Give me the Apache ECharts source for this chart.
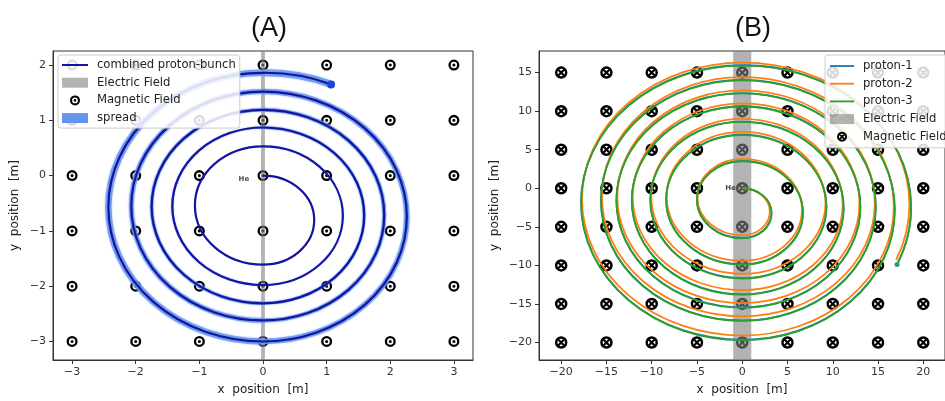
<!DOCTYPE html>
<html>
<head>
<meta charset="UTF-8">
<script src="https://cdn.jsdelivr.net/npm/echarts@6/dist/echarts.min.js"></script>
<style>
    * { margin: 0; padding: 0; }
    body { background: #fff; }
    #main { width: 945px; height: 401px; }
</style>
</head>
<body>
<div id="main"></div>
<script>
    // ---------- panel (A): combined proton bunch ----------
    var xTicksA = [-3, -2, -1, 0, 1, 2, 3];
    var yTicksA = [-3, -2, -1, 0, 1, 2];
    var fieldXA = [-3, -2, -1, 0, 1, 2, 3];        // magnetic field markers
    var fieldYA = [-3, -2, -1, 0, 1, 2];
    var bandA = [-0.03, 0.03];                      // electric field gap
    // y where the bunch crosses x = 0 (above / below)
    var topCrossA = [0, 0.53, 0.87, 1.19, 1.52, 1.86];
    var bottomCrossA = [-1.61, -1.98, -2.31, -2.62, -3.0];
    var endA = [1.07, 1.65];
    var lastRadiusA = 2.6;
    var heA = [-0.3, -0.07];

    // ---------- panel (B): three protons ----------
    var xTicksB = [-20, -15, -10, -5, 0, 5, 10, 15, 20];
    var yTicksB = [-20, -15, -10, -5, 0, 5, 10, 15];
    var fieldXB = [-20, -15, -10, -5, 0, 5, 10, 15, 20];
    var fieldYB = [-20, -15, -10, -5, 0, 5, 10, 15];
    var bandB = [-1, 1];
    var p1Top = [0, 3.55, 6.95, 8.65, 10.65, 12.35, 14.05, 15.95];
    var p1Bottom = [-6.45, -9.85, -11.65, -13.75, -15.45, -17.15, -19.65];
    var p1End = [17.1, -9.85];
    var p2Top = [0, 3.8, 7.3, 9.0, 11.0, 12.7, 14.4, 16.3];
    var p2Bottom = [-6.1, -9.4, -11.1, -13.2, -14.9, -16.6, -19.1];
    var p2End = [17.0, -9.3];
    var p3Top = [0, 3.5, 6.9, 8.6, 10.6, 12.3, 14.0, 15.9];
    var p3Bottom = [-6.5, -9.9, -11.7, -13.8, -15.5, -17.2, -19.7];
    var p3End = [17.1, -9.9];
    var lastRadiusB = 18.4;
    var heB = [-1.3, 0];

    // axis limits
    var xLimA = [-3.3, 3.3], yLimA = [-3.335, 2.254];
    var xLimB = [-22.45, 22.4], yLimB = [-22.27, 17.8];

    // width of the spread halo for each half turn
    var spreadWidthA = [0, 0, 1, 2, 3, 3.5, 4, 5, 5.5, 6.5, 7];

    var fieldColor = 'rgba(128,128,128,0.6)';
    var lineIcon = 'path://M0,0 H26 V2 H0 Z';
    var dotRing = 'path://M0,-5 A5,5 0 1,1 0,5 A5,5 0 1,1 0,-5 Z M0,-2.9 A2.9,2.9 0 1,0 0,2.9 A2.9,2.9 0 1,0 0,-2.9 Z M0,-1.4 A1.4,1.4 0 1,1 0,1.4 A1.4,1.4 0 1,1 0,-1.4 Z';
    var crossRing = 'path://M0,-5 A5,5 0 1,1 0,5 A5,5 0 1,1 0,-5 Z M0,-3.0 A3.0,3.0 0 1,0 0,3.0 A3.0,3.0 0 1,0 0,-3.0 Z M2.934,1.732 L1.732,2.934 L-2.934,-1.732 L-1.732,-2.934 Z M2.934,-1.732 L-1.732,2.934 L-2.934,1.732 L1.732,-2.934 Z';

    // half turns: [x0, y0, x1, y1, radius]
    function buildArcs(tops, bottoms, end, lastR) {
        var arcs = [];
        for (var i = 0; i < bottoms.length; i++) {
            arcs.push([0, tops[i], 0, bottoms[i], (tops[i] - bottoms[i]) / 2]);
            arcs.push([0, bottoms[i], 0, tops[i + 1], (tops[i + 1] - bottoms[i]) / 2]);
        }
        arcs.push([0, tops[tops.length - 1], end[0], end[1], lastR]);
        return arcs;
    }

    function gridPoints(xs, ys) {
        var pts = [];
        ys.forEach(function (y) {
            xs.forEach(function (x) { pts.push([x, y]); });
        });
        return pts;
    }

    function arcRenderer(color, widths, glow) {
        return function (params, api) {
            var w = typeof widths === 'number' ? widths : widths[params.dataIndex];
            if (!w) return null;
            var p0 = api.coord([api.value(0), api.value(1)]);
            var p1 = api.coord([api.value(2), api.value(3)]);
            var s = api.size([api.value(4), api.value(4)]);
            var d = 'M' + p0[0] + ' ' + p0[1] + ' A' + s[0] + ' ' + s[1] + ' 0 0 1 ' + p1[0] + ' ' + p1[1];
            var style = { stroke: color, lineWidth: w, fill: 'none' };
            if (glow) { style.shadowBlur = 2; style.shadowColor = color; }
            return { type: 'path', shape: { pathData: d }, style: style };
        };
    }

    function bandRenderer(yLim) {
        return function (params, api) {
            var a = api.coord([api.value(0), yLim[1]]);
            var b = api.coord([api.value(1), yLim[0]]);
            return {
                type: 'rect',
                shape: { x: a[0], y: a[1], width: b[0] - a[0], height: b[1] - a[1] },
                style: { fill: fieldColor }
            };
        };
    }

    var arcsA = buildArcs(topCrossA, bottomCrossA, endA, lastRadiusA);
    var arcsP1 = buildArcs(p1Top, p1Bottom, p1End, lastRadiusB);
    var arcsP2 = buildArcs(p2Top, p2Bottom, p2End, lastRadiusB);
    var arcsP3 = buildArcs(p3Top, p3Bottom, p3End, lastRadiusB);

    var minus = function (v) { return String(v).replace('-', '\u2212'); };
    var tickFont = { fontFamily: 'DejaVu Sans', fontSize: 11, color: '#333' };

    function xAxisOf(idx, lim, ticks) {
        return {
            gridIndex: idx, type: 'value', min: lim[0], max: lim[1],
            name: 'x  position  [m]', nameLocation: 'middle', nameGap: 24,
            nameTextStyle: { fontFamily: 'DejaVu Sans', fontSize: 12, color: '#222' },
            axisLine: { show: true, onZero: false, lineStyle: { color: '#333' } },
            axisTick: { show: true, length: 4, customValues: ticks, lineStyle: { color: '#333' } },
            axisLabel: Object.assign({ customValues: ticks, formatter: minus, margin: 7 }, tickFont),
            splitLine: { show: false }
        };
    }

    function yAxisOf(idx, lim, ticks, gap) {
        return {
            gridIndex: idx, type: 'value', min: lim[0], max: lim[1],
            name: 'y  position  [m]', nameLocation: 'middle', nameGap: gap,
            nameTextStyle: { fontFamily: 'DejaVu Sans', fontSize: 12, color: '#222' },
            axisLine: { show: true, onZero: false, lineStyle: { color: '#333' } },
            axisTick: { show: true, length: 4, customValues: ticks, lineStyle: { color: '#333' } },
            axisLabel: Object.assign({ customValues: ticks, formatter: minus, margin: 7 }, tickFont),
            splitLine: { show: false }
        };
    }

    function heLabel(pos, xi) {
        return {
            type: 'scatter', xAxisIndex: xi, yAxisIndex: xi, z: 6, silent: true,
            symbolSize: 1, itemStyle: { color: 'rgba(0,0,0,0)' },
            label: { show: true, position: 'inside', formatter: 'He', fontSize: 7, fontWeight: 'bold', color: '#222', fontFamily: 'DejaVu Sans' },
            data: [pos]
        };
    }

    var legendBase = {
        orient: 'vertical', top: 55, itemHeight: 10, itemGap: 3.7, z: 10,
        selectedMode: false,
        backgroundColor: 'rgba(255,255,255,0.85)', borderColor: '#ccc', borderWidth: 1, borderRadius: 3,
        textStyle: { fontFamily: 'DejaVu Sans', fontSize: 11.6, color: '#222', lineHeight: 14, padding: [0, 0, 0, 4] }
    };

    var titleFont = { fontFamily: 'Liberation Sans', fontSize: 27, fontWeight: 'normal', color: '#111' };

    var option = {
        animation: false,
        backgroundColor: '#fff',
        title: [
            { text: '(A)', left: 264, top: 10, textAlign: 'center', textStyle: titleFont },
            { text: '(B)', left: 748, top: 10, textAlign: 'center', textStyle: titleFont }
        ],
        grid: [
            { left: 53, top: 51, width: 420, height: 312, show: true, borderColor: '#333', borderWidth: 1, backgroundColor: 'transparent' },
            { left: 539, top: 51, width: 420.4, height: 312, show: true, borderColor: '#333', borderWidth: 1, backgroundColor: 'transparent' }
        ],
        xAxis: [xAxisOf(0, xLimA, xTicksA), xAxisOf(1, xLimB, xTicksB)],
        yAxis: [yAxisOf(0, yLimA, yTicksA, 32), yAxisOf(1, yLimB, yTicksB, 38)],
        legend: [
            Object.assign({}, legendBase, {
                left: 58, padding: [3, 4], itemWidth: 26,
                data: [
                    { name: 'combined proton-bunch', icon: lineIcon },
                    { name: 'Electric Field', icon: 'rect' },
                    { name: 'Magnetic Field' },
                    { name: 'spread', icon: 'rect' }
                ]
            }),
            Object.assign({}, legendBase, {
                left: 825, padding: [4, 5], itemWidth: 24,
                formatter: function (n) { return n.replace(' (B)', ''); },
                data: [
                    { name: 'proton-1', icon: lineIcon },
                    { name: 'proton-2', icon: lineIcon },
                    { name: 'proton-3', icon: lineIcon },
                    { name: 'Electric Field (B)', icon: 'rect' },
                    { name: 'Magnetic Field (B)' }
                ]
            })
        ],
        series: [
            // ----- A -----
            {
                name: 'Magnetic Field', type: 'scatter', xAxisIndex: 0, yAxisIndex: 0, z: 1, silent: true,
                symbol: dotRing, symbolSize: 11, itemStyle: { color: '#000', opacity: 1 },
                data: gridPoints(fieldXA, fieldYA)
            },
            {
                name: 'Electric Field', type: 'custom', xAxisIndex: 0, yAxisIndex: 0, z: 2, silent: true,
                itemStyle: { color: fieldColor }, renderItem: bandRenderer(yLimA), data: [bandA]
            },
            {
                name: 'spread', type: 'custom', xAxisIndex: 0, yAxisIndex: 0, z: 3, silent: true,
                itemStyle: { color: '#6495ed' },
                renderItem: arcRenderer('rgba(100,149,237,0.8)', spreadWidthA, true), data: arcsA
            },
            {
                name: 'combined proton-bunch', type: 'custom', xAxisIndex: 0, yAxisIndex: 0, z: 4, silent: true,
                itemStyle: { color: '#1414a0' },
                renderItem: arcRenderer('#1414a0', 2.2), data: arcsA
            },
            {
                name: 'bunch end', type: 'scatter', xAxisIndex: 0, yAxisIndex: 0, z: 5, silent: true,
                symbolSize: 8, itemStyle: { color: '#1f3fe0', opacity: 1 }, data: [endA]
            },
            heLabel(heA, 0),
            // ----- B -----
            {
                name: 'Magnetic Field (B)', type: 'scatter', xAxisIndex: 1, yAxisIndex: 1, z: 1, silent: true,
                symbol: crossRing, symbolSize: 12.5, itemStyle: { color: '#000', opacity: 1 },
                data: gridPoints(fieldXB, fieldYB)
            },
            {
                name: 'Electric Field (B)', type: 'custom', xAxisIndex: 1, yAxisIndex: 1, z: 2, silent: true,
                itemStyle: { color: fieldColor }, renderItem: bandRenderer(yLimB), data: [bandB]
            },
            {
                name: 'proton-1', type: 'custom', xAxisIndex: 1, yAxisIndex: 1, z: 3, silent: true,
                itemStyle: { color: '#1f77b4' }, renderItem: arcRenderer('#1f77b4', 1.8), data: arcsP1
            },
            {
                name: 'proton-2', type: 'custom', xAxisIndex: 1, yAxisIndex: 1, z: 3, silent: true,
                itemStyle: { color: '#ff7f0e' }, renderItem: arcRenderer('#ff7f0e', 1.8), data: arcsP2
            },
            {
                name: 'proton-3', type: 'custom', xAxisIndex: 1, yAxisIndex: 1, z: 4, silent: true,
                itemStyle: { color: '#2ca02c' }, renderItem: arcRenderer('#2ca02c', 1.8), data: arcsP3
            },
            {
                name: 'proton end', type: 'scatter', xAxisIndex: 1, yAxisIndex: 1, z: 5, silent: true,
                symbolSize: 5, itemStyle: { color: '#2a9d6a', opacity: 1 }, data: [p3End]
            },
            heLabel(heB, 1)
        ]
    };

    var chart = echarts.init(document.getElementById('main'));
    chart.setOption(option);
</script>
</body>
</html>
